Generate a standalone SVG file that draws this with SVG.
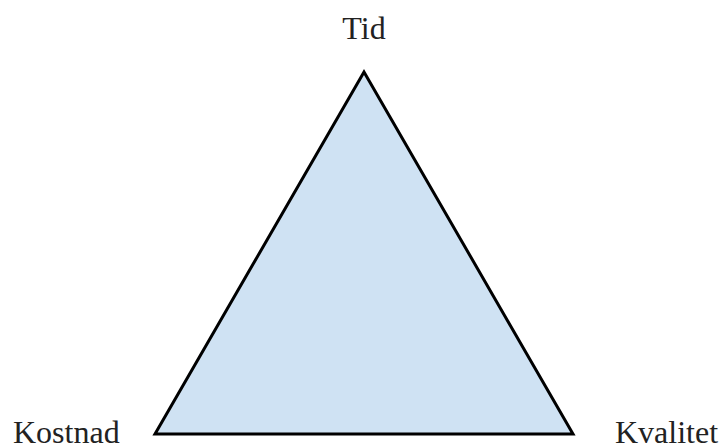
<svg xmlns="http://www.w3.org/2000/svg" width="724" height="447" viewBox="0 0 724 447">
<style>
.lbl{font-family:"Liberation Serif","Times New Roman",serif;font-size:32px;fill:#222}
</style>
<rect width="724" height="447" fill="#fff"/>
<g id="triangle"><polygon points="364,72 155,434 573,434" fill="#cfe2f3" stroke="#000" stroke-width="3" stroke-linejoin="miter"/></g>
<g id="tid"><text class="lbl" x="364" y="39" text-anchor="middle">Tid</text></g>
<g id="kostnad"><text class="lbl" x="13" y="443">Kostnad</text></g>
<g id="kvalitet"><text class="lbl" x="615" y="443">Kvalitet</text></g>
<g id="connectors"></g>
</svg>
